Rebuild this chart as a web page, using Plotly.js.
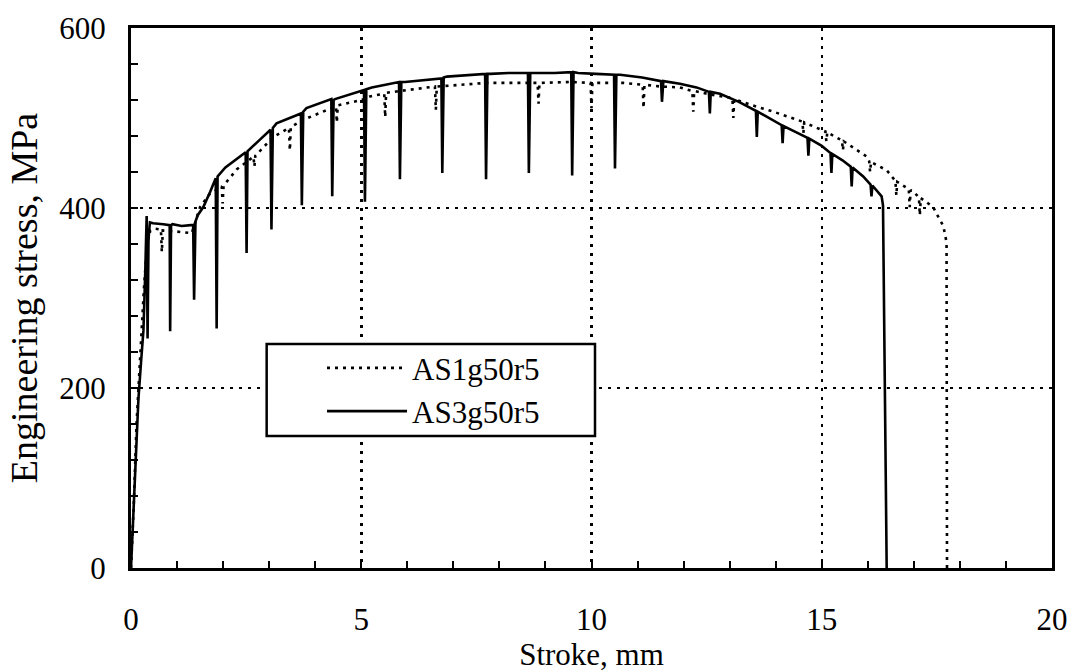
<!DOCTYPE html>
<html>
<head>
<meta charset="utf-8">
<script src="https://cdn.plot.ly/plotly-3.0.1.min.js"></script>
<style>html,body{margin:0;padding:0;background:#fff;}#chart{width:1071px;height:672px;}</style>
</head>
<body>
<div id="chart"></div>
<script>
// AS1g50r5 (dotted)
const strokeAS1 = [0.00,0.06,0.12,0.20,0.28,0.35,0.42,0.52,0.65,0.67,0.69,0.96,1.32,1.40,1.50,1.70,1.97,1.99,2.01,2.30,2.66,2.68,2.70,3.09,3.43,3.45,3.47,3.74,4.10,4.32,4.45,4.47,4.49,5.01,5.19,5.50,5.52,5.54,6.00,6.60,6.62,6.64,6.93,7.72,8.30,8.83,8.85,8.87,9.53,9.80,9.98,10.00,10.02,10.69,11.11,11.13,11.15,11.49,11.92,12.19,12.21,12.23,12.60,13.06,13.08,13.10,13.50,13.95,14.30,14.58,14.60,14.62,15.08,15.10,15.12,15.44,15.46,15.48,15.98,16.03,16.05,16.07,16.41,16.60,16.62,16.64,16.89,16.91,16.93,16.99,17.11,17.13,17.15,17.42,17.49,17.64,17.71,17.72];
const stressAS1 = [0,70,160,240,310,360,375,377,376,351,375,374,372,385,401,415,424,405,425,443,457,446,458,479,489,464,490,498,506,510,513,495,514,520,524,527,501,528,531,535,509,535,536,539,539,539,516,539,540,539,539,511,539,539,537,511,537,535,534,530,507,530,526,522,500,521,514,507,501,496,483,495,485,474,484,475,464,474,457,452,440,451,442,430,414,429,421,401,420,418,412,392,411,401,394,380,362,0];

// AS3g50r5 (solid)
const strokeAS3 = [0.00,0.05,0.10,0.16,0.22,0.27,0.31,0.34,0.36,0.38,0.41,0.48,0.70,0.84,0.85,0.87,0.90,1.10,1.30,1.35,1.37,1.40,1.45,1.57,1.72,1.84,1.86,1.88,2.05,2.30,2.49,2.51,2.53,2.80,3.03,3.05,3.08,3.16,3.45,3.69,3.71,3.74,3.81,4.10,4.35,4.37,4.40,4.43,4.80,5.06,5.08,5.11,5.23,5.55,5.82,5.84,5.87,5.95,6.40,6.74,6.76,6.79,6.86,7.30,7.69,7.71,7.74,7.80,8.20,8.62,8.64,8.67,8.77,9.20,9.56,9.58,9.61,9.71,10.10,10.49,10.51,10.54,10.62,11.10,11.51,11.53,11.56,11.92,12.28,12.55,12.57,12.59,12.79,13.20,13.57,13.59,13.61,13.85,14.13,14.15,14.17,14.45,14.69,14.71,14.73,15.00,15.19,15.21,15.23,15.45,15.63,15.65,15.67,15.90,16.06,16.08,16.10,16.30,16.33,16.41];
const stressAS3 = [0,55,120,187,230,264,330,391,255,365,384,383,382,381,263,381,382,380,381,381,298,385,392,401,418,433,266,435,445,455,462,350,463,476,487,376,489,494,500,505,403,507,511,516,521,413,520,521,527,531,407,532,534,537,540,432,540,540,542,544,439,545,546,548,549,432,549,549,550,550,439,550,550,550,551,436,551,550,549,548,444,548,548,545,541,518,541,538,534,529,505,529,527,518,508,479,507,500,492,472,491,484,478,458,477,469,461,439,460,453,446,424,445,435,426,413,425,413,403,0];

const seriesNames = ['AS1g50r5', 'AS3g50r5'];
const xTickVals = [0, 5, 10, 15, 20];
const yTickVals = [0, 200, 400, 600];

const FONT = '"Liberation Serif", "DejaVu Serif", serif';

const traces = [
  {x: strokeAS1, y: stressAS1, name: seriesNames[0], mode: 'lines', type: 'scatter',
   line: {color: '#000', width: 2.6, dash: '3px,5px'}},
  {x: strokeAS3, y: stressAS3, name: seriesNames[1], mode: 'lines', type: 'scatter',
   line: {color: '#000', width: 2.6}}
];

const axisCommon = {
  showline: true, linecolor: '#000', linewidth: 3, mirror: true,
  ticks: 'inside', ticklen: 7, tickwidth: 2, tickcolor: '#000',
  showgrid: true, gridcolor: '#000', gridwidth: 2.5, griddash: '3px,6px',
  zeroline: false, tickfont: {family: FONT, size: 31, color: '#000'}
};

const layout = {
  width: 1071, height: 672,
  margin: {l: 131, r: 19, t: 28, b: 104},
  paper_bgcolor: '#fff', plot_bgcolor: '#fff',
  showlegend: true,
  font: {family: FONT, color: '#000'},
  xaxis: Object.assign({}, axisCommon, {
    range: [0, 20], tickvals: xTickVals, ticktext: xTickVals.map(String),
    ticklabelstandoff: 22,
    minor: {dtick: 1, tick0: 0, ticks: 'inside', ticklen: 7, tickwidth: 2, tickcolor: '#000', showgrid: false},
    title: {text: 'Stroke, mm', font: {family: FONT, size: 31, color: '#000'}, standoff: 6}
  }),
  yaxis: Object.assign({}, axisCommon, {
    range: [0, 600], tickvals: yTickVals, ticktext: yTickVals.map(String),
    ticklabelstandoff: 16,
    minor: {dtick: 40, tick0: 0, ticks: 'inside', ticklen: 7, tickwidth: 2, tickcolor: '#000', showgrid: false},
    title: {text: 'Engineering stress, MPa', font: {family: FONT, size: 38, color: '#000'}, standoff: 10}
  }),
  shapes: [{
    type: 'rect', xref: 'paper', yref: 'paper', layer: 'above',
    x0: 0.1473, x1: 0.5038, y0: 0.2444, y1: 0.4148,
    fillcolor: '#fff', line: {color: '#000', width: 2.5}
  }],
  legend: {
    x: 0.2074, y: 0.42, xanchor: 'left', yanchor: 'top',
    bgcolor: 'rgba(0,0,0,0)', borderwidth: 0,
    font: {family: FONT, size: 31, color: '#000'},
    itemwidth: 80, tracegroupgap: 0
  }
};

Plotly.newPlot('chart', traces, layout, {staticPlot: true, displayModeBar: false});
</script>
</body>
</html>
